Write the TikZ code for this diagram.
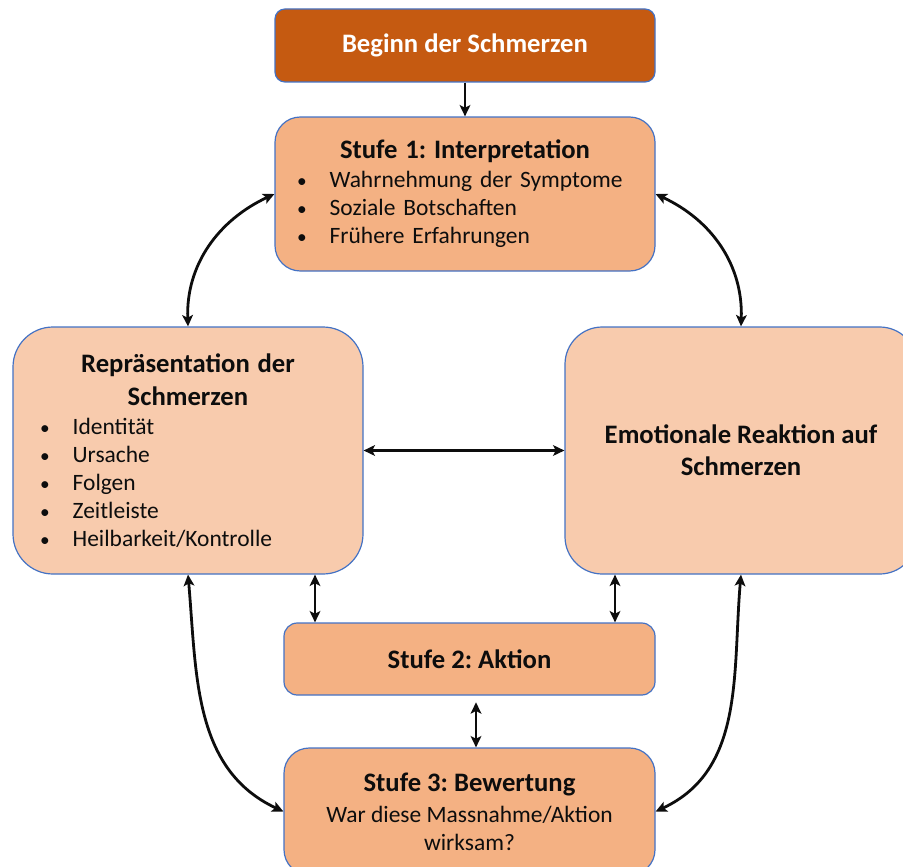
\documentclass[tikz,border=0pt]{standalone}
\usepackage{fontspec}
\setmainfont{Carlito}
\usetikzlibrary{arrows.meta}
\definecolor{rim}{HTML}{4472C4}
\definecolor{onset}{HTML}{C55A11}
\definecolor{stage}{HTML}{F4B183}
\definecolor{appraise}{HTML}{F8CBAD}
\definecolor{ink}{HTML}{0D0D0D}
\frenchspacing
\newcommand{\blt}{\makebox[26pt][l]{\kern1.5pt{\fontsize{14.5}{12}\selectfont\textbullet}}}
\newcommand{\hdfont}{\fontsize{20}{24}\selectfont\bfseries}
\newcommand{\hdline}[1]{\makebox[\hsize]{\hdfont #1}}

\begin{document}
\begin{tikzpicture}[x=0.75pt, y=-0.75pt,
  box/.style={draw=rim, line width=0.9pt, text=ink, font=\fontsize{17.6}{21}\selectfont},
  wire/.style={line width=2.1pt, ink, >={Stealth[length=8.5pt,width=8pt,inset=2pt]}},
  biwire/.style={wire, <->}]
\useasboundingbox (0,0) rectangle (903,867);
% boxes
\node[box, fill=onset, text=white, font=\hdfont,
  rounded corners=7.5pt, minimum width=285pt, minimum height=54.75pt] (onset) at (465,45.5) {Beginn der Schmerzen};
\node[box, fill=stage, rounded corners=19pt, minimum width=285pt, minimum height=115.5pt,
  inner xsep=15pt, text width=255pt, align=left] (stufe1) at (465,194)
  {\hdline{Stufe 1: Interpretation}\\[0.75pt] \blt Wahrnehmung der Symptome\\ \blt Soziale Botschaften\\ \blt Frühere Erfahrungen};
\node[box, fill=appraise, rounded corners=30pt, minimum width=262.5pt, minimum height=185.25pt,
  inner xsep=18.75pt, text width=225pt, align=left] (rep) at (188,450.5)
  {\hdline{Repräsentation der}\\[3.75pt] \hdline{Schmerzen}\\[0.75pt] \blt Identität\\ \blt Ursache\\ \blt Folgen\\ \blt Zeitleiste\\ \blt Heilbarkeit/Kontrolle};
\node[box, fill=appraise, rounded corners=28pt, minimum width=264pt, minimum height=185.25pt,
  align=center, font=\hdfont] (emo) at (741,450.5)
  {Emotionale Reaktion auf\\ Schmerzen};
\node[box, fill=stage, rounded corners=10pt, minimum width=278.25pt, minimum height=54pt,
  font=\hdfont] (stufe2) at (469.5,659) {Stufe 2: Aktion};
\node[box, fill=stage, rounded corners=19pt, minimum width=278.25pt, minimum height=95.25pt,
  align=center] (stufe3) at (469.5,811.5)
  {{\hdfont Stufe 3: Bewertung}\\[2.25pt] War diese Massnahme/Aktion\\ wirksam?};
% connectors
\draw[wire, ->] (onset) -- (stufe1);
\draw[biwire] (rep.north) to[out=92, in=205] (stufe1.west);
\draw[biwire] (emo.north) to[out=88, in=-25] (stufe1.east);
\draw[biwire] (rep) -- (emo);
\draw[biwire] (rep.south -| 315,0) -- (stufe2.north -| 315,0);
\draw[biwire] (emo.south -| 615,0) -- (stufe2.north -| 615,0);
\draw[biwire, shorten <=5pt] (stufe2.south -| 476,0) -- (stufe3.north -| 476,0);
\draw[biwire] (rep.south) to[out=-85, in=155] (stufe3.west);
\draw[biwire] (emo.south) to[out=-95, in=25] (stufe3.east);
\end{tikzpicture}
\end{document}
